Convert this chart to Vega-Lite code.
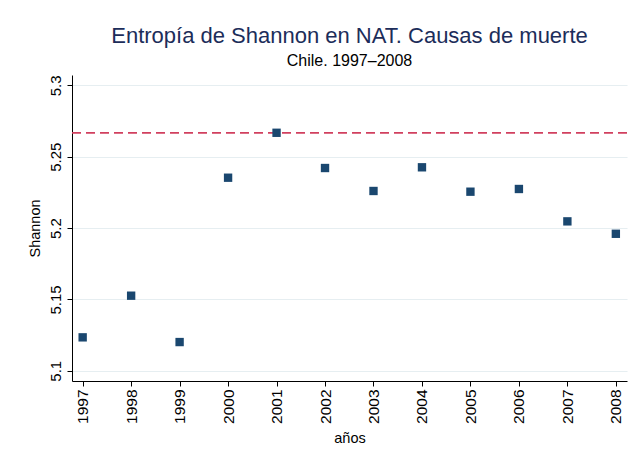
{
  "$schema": "https://vega.github.io/schema/vega-lite/v6.json",
  "width": 555,
  "height": 306,
  "autosize": "none",
  "padding": {"left": 72, "top": 75, "right": 5, "bottom": 85},
  "background": "white",
  "config": {"font": "Liberation Sans", "view": {"stroke": null}},
  "title": {
    "text": "Entropía de Shannon en NAT. Causas de muerte",
    "subtitle": "Chile. 1997–2008",
    "fontSize": 22,
    "fontWeight": "normal",
    "color": "#1c2d5a",
    "subtitleFontSize": 16,
    "subtitleColor": "#000000",
    "subtitlePadding": 5,
    "anchor": "middle",
    "frame": "group",
    "offset": 5
  },
  "data": {
    "values": [
      {"year": 1997, "shannon": 5.1234},
      {"year": 1998, "shannon": 5.1526},
      {"year": 1999, "shannon": 5.1201},
      {"year": 2000, "shannon": 5.2353},
      {"year": 2001, "shannon": 5.2668},
      {"year": 2002, "shannon": 5.2421},
      {"year": 2003, "shannon": 5.2260},
      {"year": 2004, "shannon": 5.2426},
      {"year": 2005, "shannon": 5.2255},
      {"year": 2006, "shannon": 5.2274},
      {"year": 2007, "shannon": 5.2047},
      {"year": 2008, "shannon": 5.1960}
    ]
  },
  "encoding": {
    "y": {
      "field": "shannon",
      "type": "quantitative",
      "scale": {"domain": [5.0928, 5.3073], "nice": false, "zero": false},
      "axis": {
        "values": [5.1, 5.15, 5.2, 5.25, 5.3],
        "format": ".2~f",
        "labelAngle": -90,
        "labelAlign": "center",
        "labelBaseline": "bottom",
        "labelFontSize": 15,
        "labelColor": "#000000",
        "labelPadding": 4,
        "tickSize": 5,
        "tickColor": "#000000",
        "domainColor": "#000000",
        "grid": true,
        "gridColor": "#e6eef1",
        "gridWidth": 1.2,
        "title": "Shannon",
        "titleFontSize": 14.5,
        "titleFontWeight": "normal",
        "titleColor": "#000000",
        "titlePadding": 6
      }
    }
  },
  "layer": [
    {
      "mark": {"type": "rule", "strokeDash": [9, 5], "strokeWidth": 1.8, "color": "#d1405f"},
      "encoding": {
        "y": {"aggregate": "max", "field": "shannon", "type": "quantitative"}
      }
    },
    {
      "mark": {"type": "square", "size": 70, "color": "#1a476f", "opacity": 1},
      "encoding": {
        "x": {
          "field": "year",
          "type": "quantitative",
          "scale": {"domain": [1996.78, 2008.23], "nice": false, "zero": false},
          "axis": {
            "values": [1997, 1998, 1999, 2000, 2001, 2002, 2003, 2004, 2005, 2006, 2007, 2008],
            "format": "d",
            "labelAngle": -90,
            "labelFontSize": 15.5,
            "labelColor": "#000000",
            "labelPadding": 3,
            "tickSize": 5,
            "tickColor": "#000000",
            "domainColor": "#000000",
            "grid": false,
            "title": "años",
            "titleFontSize": 14.5,
            "titleFontWeight": "normal",
            "titleColor": "#000000",
            "titlePadding": 8
          }
        }
      }
    }
  ]
}
